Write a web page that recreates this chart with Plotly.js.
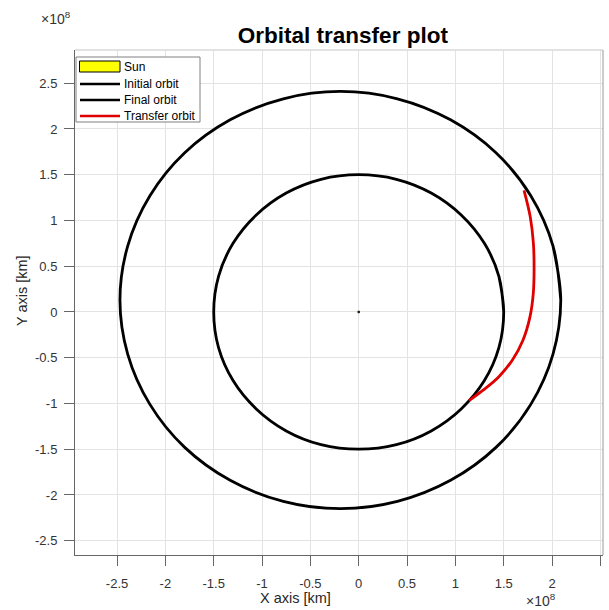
<!DOCTYPE html>
<html>
<head>
<meta charset="utf-8">
<script src="https://cdn.plot.ly/plotly-3.0.1.min.js"></script>
<style>html,body{margin:0;padding:0;background:#fff;}#chart{width:609px;height:610px;}</style>
</head>
<body>
<div id="chart"></div>
<script>
// Values in units of 1e8 km (axis exponent shown as ×10^8)
const sunX = [-0.008, 0.008, 0.008, -0.008, -0.008];
const sunY = [-0.008, -0.008, 0.008, 0.008, -0.008];

// Initial orbit (inner, radius ~1.5)
const initialX = [1.50, 1.45, 1.30, 1.06, 0.75, 0.39, 0.00, -0.39, -0.75, -1.06, -1.30, -1.45, -1.50, -1.45, -1.30, -1.06, -0.75, -0.39, 0.00, 0.39, 0.75, 1.06, 1.30, 1.45, 1.50, 1.45];
const initialY = [0.00, 0.39, 0.75, 1.06, 1.30, 1.45, 1.50, 1.45, 1.30, 1.06, 0.75, 0.39, 0.00, -0.39, -0.75, -1.06, -1.30, -1.45, -1.50, -1.45, -1.30, -1.06, -0.75, -0.39, 0.00, 0.39];

// Final orbit (outer)
const finalX = [2.09, 2.01, 1.78, 1.42, 0.95, 0.40, -0.19, -0.78, -1.33, -1.80, -2.16, -2.39, -2.47, -2.39, -2.16, -1.80, -1.33, -0.78, -0.19, 0.40, 0.95, 1.42, 1.78, 2.01, 2.09, 2.01];
const finalY = [0.13, 0.72, 1.27, 1.74, 2.10, 2.33, 2.41, 2.33, 2.10, 1.74, 1.27, 0.72, 0.13, -0.46, -1.01, -1.48, -1.84, -2.07, -2.15, -2.07, -1.84, -1.48, -1.01, -0.46, 0.13, 0.72];

// Transfer orbit arc
const transferX = [1.14, 1.29, 1.45, 1.59, 1.70, 1.772, 1.806, 1.814, 1.807, 1.774, 1.71];
const transferY = [-0.97, -0.852, -0.707, -0.525, -0.306, -0.051, 0.204, 0.459, 0.751, 1.042, 1.33];

const tickVals = [-2.5, -2, -1.5, -1, -0.5, 0, 0.5, 1, 1.5, 2, 2.5];
const tickText = ["-2.5", "-2", "-1.5", "-1", "-0.5", "0", "0.5", "1", "1.5", "2", "2.5"];

const legendLabels = ["Sun", "Initial orbit", "Final orbit", "Transfer orbit"];
const legendColors = ["#ffff00", "#000000", "#000000", "#e00000"];

const FONT = "Liberation Sans, Arial, Helvetica, sans-serif";

const traces = [
  {x: sunX, y: sunY, name: legendLabels[0], mode: "lines", fill: "toself", fillcolor: legendColors[0],
   line: {color: "#000", width: 1}, hoverinfo: "skip"},
  {x: initialX, y: initialY, name: legendLabels[1], mode: "lines",
   line: {color: legendColors[1], width: 2.8, shape: "spline", smoothing: 1}},
  {x: finalX, y: finalY, name: legendLabels[2], mode: "lines",
   line: {color: legendColors[2], width: 2.8, shape: "spline", smoothing: 1}},
  {x: transferX, y: transferY, name: legendLabels[3], mode: "lines",
   line: {color: legendColors[3], width: 2.8, shape: "spline", smoothing: 1}}
];

const axisCommon = {
  tickvals: tickVals, ticktext: tickText,
  showgrid: true, gridcolor: "#e3e3e3", gridwidth: 1,
  zeroline: false, showline: true, linecolor: "#666", linewidth: 1,
  ticks: "outside", ticklen: 10, tickcolor: "#666", tickwidth: 1,
  tickfont: {family: FONT, size: 13, color: "#333"},
  fixedrange: true
};

// Legend drawn in paper coordinates (pixel positions converted for a 528x505 plot area at l=75, t=50)
const PL = 75, PT = 50, PW = 528, PH = 505;
const px = v => (v - PL) / PW;
const py = v => (PT + PH - v) / PH;
const legendRowY = [66.5, 84, 100, 116];

const shapes = [
  {type: "line", xref: "paper", yref: "paper", x0: 0, x1: 1, y0: 1, y1: 1, line: {color: "#d8d8d8", width: 1.5}},
  {type: "line", xref: "paper", yref: "paper", x0: 1, x1: 1, y0: 0, y1: 1, line: {color: "#999", width: 1}},
  {type: "rect", xref: "paper", yref: "paper", x0: px(76), x1: px(200), y0: py(122), y1: py(57),
   fillcolor: "#fff", line: {color: "#808080", width: 1}},
  {type: "rect", xref: "paper", yref: "paper", x0: px(79.5), x1: px(120), y0: py(72), y1: py(61),
   fillcolor: legendColors[0], line: {color: "#000", width: 1}}
];
for (let i = 1; i < legendLabels.length; i++) {
  shapes.push({type: "line", xref: "paper", yref: "paper", x0: px(80), x1: px(120),
               y0: py(legendRowY[i]), y1: py(legendRowY[i]), line: {color: legendColors[i], width: 2.6}});
}

const annotations = [
  {text: "×10<sup>8</sup>", xref: "paper", yref: "paper", x: px(39), y: py(18), xanchor: "left", yanchor: "middle",
   showarrow: false, font: {family: FONT, size: 14, color: "#333"}},
  {text: "×10<sup>8</sup>", xref: "paper", yref: "paper", x: px(524), y: py(600), xanchor: "left", yanchor: "middle",
   showarrow: false, font: {family: FONT, size: 14, color: "#333"}},
  {text: "X axis [km]", xref: "paper", yref: "paper", x: px(295), y: py(598), xanchor: "center", yanchor: "middle",
   showarrow: false, font: {family: FONT, size: 14.5, color: "#262626"}},
  {text: "Y axis [km]", xref: "paper", yref: "paper", x: px(22), y: py(291), xanchor: "center", yanchor: "middle",
   textangle: -90, showarrow: false, font: {family: FONT, size: 14.5, color: "#262626"}}
];
legendLabels.forEach((lab, i) => {
  annotations.push({text: lab, xref: "paper", yref: "paper", x: px(122), y: py(legendRowY[i]),
    xanchor: "left", yanchor: "middle", showarrow: false, font: {family: FONT, size: 12, color: "#000"}});
});

const layout = {
  width: 609, height: 610,
  margin: {l: PL, r: 609 - PL - PW, t: PT, b: 610 - PT - PH},
  paper_bgcolor: "#fff", plot_bgcolor: "#fff",
  title: {text: "Orbital transfer plot", x: 0.563, xanchor: "center", xref: "container",
          y: 0.943, yanchor: "middle", yref: "container",
          font: {family: FONT, size: 22.5, color: "#000", weight: "bold"}},
  xaxis: Object.assign({}, axisCommon, {range: [-2.935, 2.527], ticklabelstandoff: 6}),
  yaxis: Object.assign({}, axisCommon, {range: [-2.656, 2.863], ticklabelstandoff: 4}),
  showlegend: false,
  shapes: shapes,
  annotations: annotations
};

Plotly.newPlot("chart", traces, layout, {displayModeBar: false, staticPlot: true});
</script>
</body>
</html>
